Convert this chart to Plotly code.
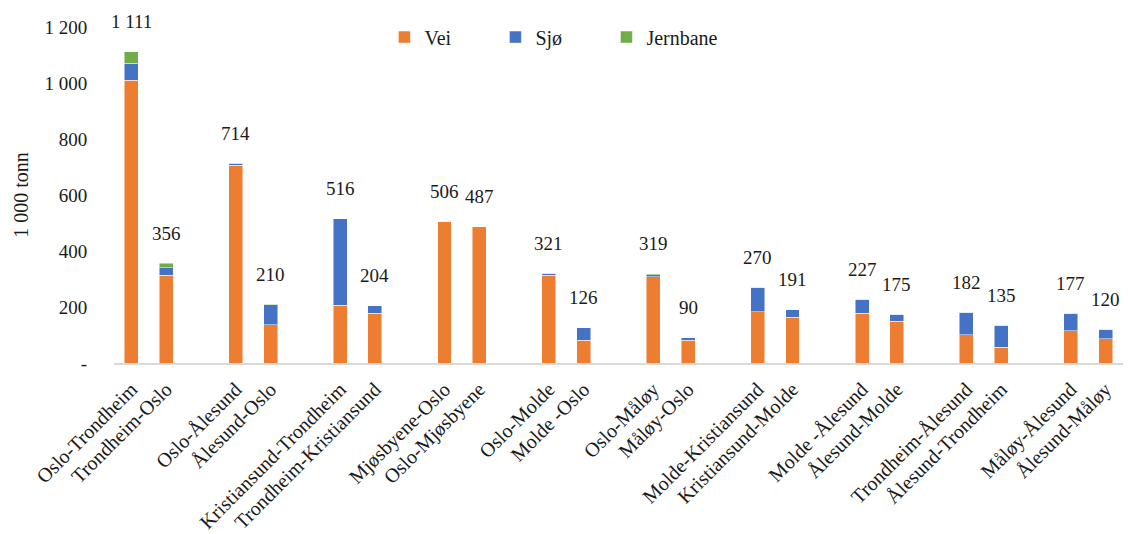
import plotly.graph_objects as go

routes = ["Oslo-Trondheim", "Trondheim-Oslo", "gap1",
          "Oslo-Ålesund", "Ålesund-Oslo", "gap2",
          "Kristiansund-Trondheim", "Trondheim-Kristiansund", "gap3",
          "Mjøsbyene-Oslo", "Oslo-Mjøsbyene", "gap4",
          "Oslo-Molde", "Molde -Oslo", "gap5",
          "Oslo-Måløy", "Måløy-Oslo", "gap6",
          "Molde-Kristiansund", "Kristiansund-Molde", "gap7",
          "Molde -Ålesund", "Ålesund-Molde", "gap8",
          "Trondheim-Ålesund", "Ålesund-Trondheim", "gap9",
          "Måløy-Ålesund", "Ålesund-Måløy"]

vei = [1010, 314, None, 707, 136, None, 207, 177, None, 506, 487, None,
       314, 82, None, 308, 82, None, 183, 164, None, 177, 149, None,
       101, 57, None, 115, 87]
sjo = [60, 27, None, 5, 72, None, 309, 27, None, 0, 0, None,
       7, 44, None, 7, 8, None, 87, 27, None, 50, 26, None,
       81, 78, None, 62, 33]
jernbane = [41, 15, None, 2, 2, None, 0, 0, None, 0, 0, None,
            0, 0, None, 4, 0, None, 0, 0, None, 0, 0, None,
            0, 0, None, 0, 0]
totals = [1111, 356, None, 714, 210, None, 516, 204, None, 506, 487, None,
          321, 126, None, 319, 90, None, 270, 191, None, 227, 175, None,
          182, 135, None, 177, 120]

y_tickvals = [0, 200, 400, 600, 800, 1000, 1200]
y_ticktext = ["-", "200", "400", "600", "800", "1 000", "1 200"]

FONT = "Liberation Serif"
TXT = "#1a1a1a"

fig = go.Figure()
for name, vals, col in [("Vei", vei, "#ED7D31"), ("Sjø", sjo, "#4472C4"),
                        ("Jernbane", jernbane, "#70AD47")]:
    fig.add_trace(go.Bar(x=routes, y=vals, name=name, marker_color=col,
                         marker_line=dict(color="rgba(255,255,255,0.6)", width=0.8)))

for r, t in zip(routes, totals):
    if t is None:
        continue
    fig.add_annotation(x=r, y=t, text=f"{t:,}".replace(",", " "), showarrow=False,
                       yshift=30, font=dict(family=FONT, size=19, color=TXT))

real = [r for r in routes if not r.startswith("gap")]
fig.update_layout(
    barmode="stack", bargap=0.6,
    width=1128, height=534,
    margin=dict(l=114, r=5, t=27, b=171, autoexpand=False),
    plot_bgcolor="white", paper_bgcolor="white",
    font=dict(family=FONT, color=TXT),
    legend=dict(orientation="h", x=0.268, y=0.97, xanchor="left", yanchor="middle",
                traceorder="normal",
                entrywidth=66, font=dict(family=FONT, size=20, color=TXT),
                bgcolor="rgba(0,0,0,0)"),
    xaxis=dict(type="category", categoryorder="array", categoryarray=routes,
               range=[-0.5, len(routes) - 0.5], automargin=False,
               tickmode="array", tickvals=real, ticktext=real, tickangle=-45,
               tickfont=dict(family=FONT, size=20, color=TXT),
               showline=True, linecolor="#D9D9D9", linewidth=1.5,
               showgrid=False, ticks="outside", ticklen=5,
               tickcolor="rgba(0,0,0,0)"),
    yaxis=dict(range=[0, 1200], tickvals=y_tickvals, ticktext=y_ticktext,
               automargin=False,
               tickfont=dict(family=FONT, size=19, color=TXT),
               showgrid=False, zeroline=False, ticks="outside", ticklen=22,
               tickcolor="rgba(0,0,0,0)",
               title=dict(text="1 000 tonn", font=dict(family=FONT, size=20, color=TXT),
                          standoff=10)),
)

fig.write_html("out.html", config={"displayModeBar": False},
               post_script="document.body.style.margin='0';")
